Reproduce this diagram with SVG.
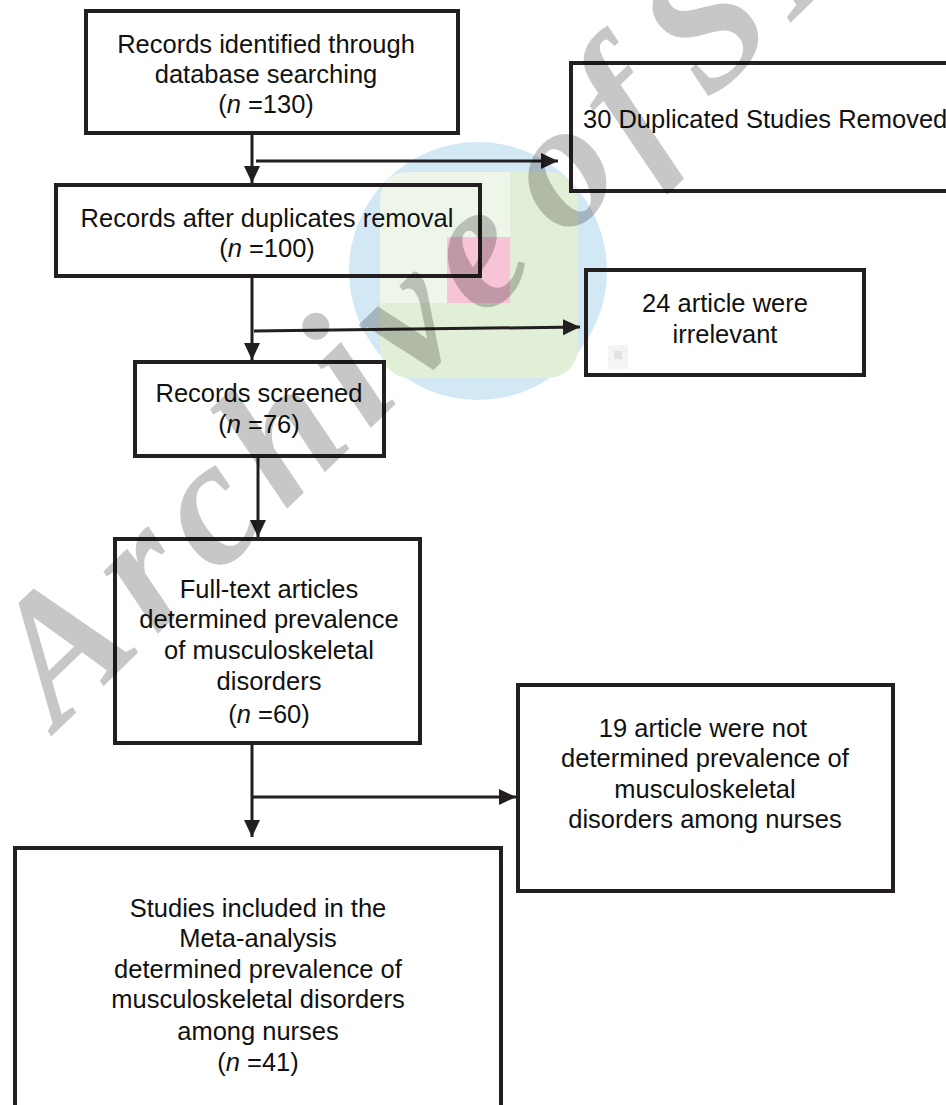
<svg xmlns="http://www.w3.org/2000/svg" width="946" height="1105" viewBox="0 0 946 1105">
<style>
.box{fill:none;stroke:#231f20;stroke-width:4}
.ln{fill:none;stroke:#231f20;stroke-width:3}
.t{font-family:"Liberation Sans",Arial,sans-serif;font-size:25.5px;fill:#111;text-anchor:middle}
.ts{text-anchor:start}
.i{font-style:italic}
.wm{font-family:"Liberation Serif","Times New Roman",serif;font-weight:bold;font-style:italic;font-size:180px;letter-spacing:15px;word-spacing:-40px;fill:#000;fill-opacity:0.22}
</style>
<defs>
<marker id="ah" markerUnits="userSpaceOnUse" markerWidth="18" markerHeight="18" refX="17" refY="8" orient="auto">
<path d="M0,0 L17,8 L0,16 Z" fill="#231f20"/>
</marker>
</defs>
<rect width="946" height="1105" fill="#fff"/>
<g id="logo">
<circle cx="478" cy="271" r="129" fill="#d3e8f5"/>
<rect x="380" y="172" width="198" height="206" rx="30" fill="#e2efd7"/>
<path d="M380,237 V202 Q380,172 410,172 H510 V237 H447 V303 H380 Z" fill="#eef6ea"/>
<rect x="447" y="237" width="63" height="66" fill="#f6c3d7"/>
<rect x="608" y="345" width="20" height="24" fill="#f4f4f4"/>
<rect x="614" y="351" width="8" height="8" fill="#e2e2e2"/>
</g>
<g id="n1">
<rect class="box" x="86" y="11" width="372" height="122"/>
<text class="t" x="266" y="53">Records identified through</text>
<text class="t" x="266" y="83">database searching</text>
<text class="t" x="266" y="113">(<tspan class="i">n</tspan> =130)</text>
</g>
<g id="n2">
<rect class="box" x="56" y="185" width="424" height="91"/>
<text class="t" x="267" y="227">Records after duplicates removal</text>
<text class="t" x="267" y="257">(<tspan class="i">n</tspan> =100)</text>
</g>
<g id="n3">
<rect class="box" x="571" y="63" width="420" height="128"/>
<text class="t ts" x="583" y="128">30 Duplicated Studies Removed</text>
</g>
<g id="n4">
<rect class="box" x="586" y="270" width="278" height="105"/>
<text class="t" x="725" y="312">24 article were</text>
<text class="t" x="725" y="343">irrelevant</text>
</g>
<g id="n5">
<rect class="box" x="135" y="362" width="249" height="94"/>
<text class="t" x="259" y="402">Records screened</text>
<text class="t" x="259" y="433">(<tspan class="i">n</tspan> =76)</text>
</g>
<g id="n6">
<rect class="box" x="115" y="539" width="305" height="204"/>
<text class="t" x="269" y="598">Full-text articles</text>
<text class="t" x="269" y="628">determined prevalence</text>
<text class="t" x="269" y="659">of musculoskeletal</text>
<text class="t" x="269" y="690">disorders</text>
<text class="t" x="269" y="723">(<tspan class="i">n</tspan> =60)</text>
</g>
<g id="n7">
<rect class="box" x="15" y="848" width="486" height="300"/>
<text class="t" x="258" y="917">Studies included in the</text>
<text class="t" x="258" y="947">Meta-analysis</text>
<text class="t" x="258" y="978">determined prevalence of</text>
<text class="t" x="258" y="1008">musculoskeletal disorders</text>
<text class="t" x="258" y="1040">among nurses</text>
<text class="t" x="258" y="1071">(<tspan class="i">n</tspan> =41)</text>
</g>
<g id="n8">
<rect class="box" x="518" y="685" width="375" height="206"/>
<text class="t" x="703" y="737">19 article were not</text>
<text class="t" x="705" y="767">determined prevalence of</text>
<text class="t" x="705" y="798">musculoskeletal</text>
<text class="t" x="705" y="828">disorders among nurses</text>
</g>
<g id="connectors">
<line class="ln" x1="252" y1="135" x2="252" y2="183" marker-end="url(#ah)"/>
<line class="ln" x1="256" y1="161" x2="558" y2="161" marker-end="url(#ah)"/>
<line class="ln" x1="252" y1="278" x2="252" y2="360" marker-end="url(#ah)"/>
<line class="ln" x1="254" y1="331" x2="580" y2="327" marker-end="url(#ah)"/>
<line class="ln" x1="258" y1="458" x2="258" y2="537" marker-end="url(#ah)"/>
<line class="ln" x1="252" y1="745" x2="252" y2="837" marker-end="url(#ah)"/>
<line class="ln" x1="252" y1="797" x2="516" y2="797" marker-end="url(#ah)"/>
</g>
<g id="watermark">
<text class="wm" transform="translate(58,730) rotate(-44)">Archive of SID</text>
</g>
</svg>
